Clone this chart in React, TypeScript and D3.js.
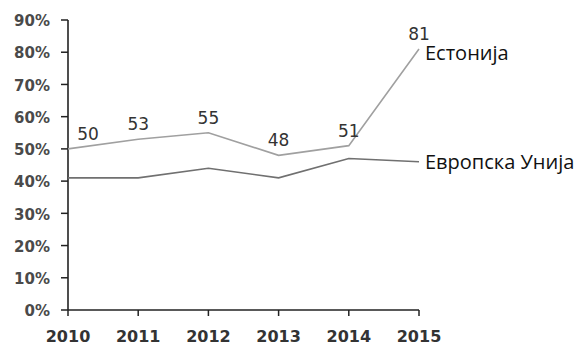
import React from "react";
import * as d3 from "d3";

const years = [2010, 2011, 2012, 2013, 2014, 2015];
const estonia = [50, 53, 55, 48, 51, 81];
const eu = [41, 41, 44, 41, 47, 46];
const yTicks = [0, 10, 20, 30, 40, 50, 60, 70, 80, 90];
const seriesNames = ["Естонија", "Европска Унија"];

export default function App() {
  const W = 580, H = 346;
  const x = d3.scaleLinear().domain([2010, 2015]).range([68, 419]);
  const y = d3.scaleLinear().domain([0, 90]).range([310, 20]);
  const line = d3.line<number>().x((_, i) => x(years[i])).y((d) => y(d));
  const axisFont = "'DejaVu Sans', Verdana, sans-serif";
  return (
    <svg width={W} height={H} style={{ position: "absolute", left: 0, top: 0 }}>
      <rect width={W} height={H} fill="#fff" />
      {/* y axis */}
      <line x1={68} x2={68} y1={y(90)} y2={y(0)} stroke="#222" strokeWidth={1.6} />
      {yTicks.map((t) => (
        <g key={t}>
          <line x1={61} x2={68} y1={y(t)} y2={y(t)} stroke="#222" strokeWidth={1.5} />
          <text x={50} y={y(t) + 1} dy="0.35em" textAnchor="end" fontFamily={axisFont} fontSize={15} fontWeight="bold" fill="#4a4a4a">
            {t}%
          </text>
        </g>
      ))}
      {/* x axis */}
      <line x1={68} x2={x(2015)} y1={y(0)} y2={y(0)} stroke="#222" strokeWidth={1.6} />
      {years.map((yr) => (
        <g key={yr}>
          <line x1={x(yr)} x2={x(yr)} y1={y(0)} y2={y(0) + 6} stroke="#222" strokeWidth={1.5} />
          <text x={x(yr)} y={336} dy="0.35em" textAnchor="middle" fontFamily={axisFont} fontSize={16} fontWeight="bold" fill="#333">
            {yr}
          </text>
        </g>
      ))}
      <path d={line(eu) || ""} fill="none" stroke="#707070" strokeWidth={1.6} />
      <path d={line(estonia) || ""} fill="none" stroke="#a0a0a0" strokeWidth={1.6} />
      {estonia.map((v, i) => (
        <text key={i} x={x(years[i]) + (i === 0 ? 20 : 0)} y={y(v) - 15} dy="0.35em" textAnchor="middle" fontFamily={axisFont} fontSize={17} fill="#333">
          {v}
        </text>
      ))}
      <text x={425} y={y(estonia[5]) + 4} dy="0.35em" fontFamily="'Open Sans', sans-serif" fontSize={20} fill="#111">
        {seriesNames[0]}
      </text>
      <text x={425} y={y(eu[5])} dy="0.35em" fontFamily="'Open Sans', sans-serif" fontSize={20} fill="#111">
        {seriesNames[1]}
      </text>
    </svg>
  );
}
